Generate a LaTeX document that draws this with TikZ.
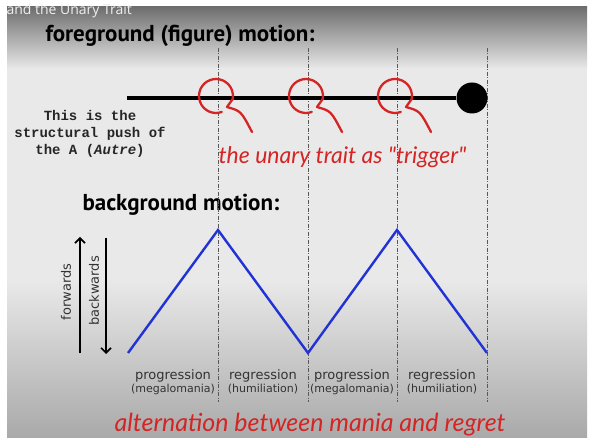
\documentclass[tikz,border=0pt]{standalone}
\usepackage{fontspec}
\setmainfont{DejaVu Sans}
\newfontfamily\headfont{PT Sans}
\newfontfamily\typefont{Liberation Mono}
\newfontfamily\handfont{Lato}
\newfontfamily\barfont{Open Sans}
\usepackage{xcolor}
\usetikzlibrary{arrows.meta}

\definecolor{bgtop}{HTML}{6E6E6E}
\definecolor{bgmid}{HTML}{E9E9E9}
\definecolor{bgbot}{HTML}{A9A9A9}
\definecolor{penred}{HTML}{D42424}
\definecolor{waveblue}{HTML}{2233D6}
\definecolor{labelgray}{HTML}{333333}

\begin{document}
\begin{tikzpicture}[x=1pt,y=-1pt,
  >={Straight Barb[length=5pt,width=10pt,line width=1.6pt]},
  divider/.style={draw=black!65,line width=0.8pt,dash pattern=on 4pt off 1.5pt on 1pt off 1.5pt},
  trigger/.style={draw=penred,line width=2.3pt,line cap=round,line join=round},
  wave/.style={draw=waveblue,line width=2.4pt,line join=miter},
  headline/.style={font=\headfont\bfseries\fontsize{23}{26}\selectfont,anchor=west},
  scribble/.style={text=penred,font=\handfont\itshape\fontsize{23}{26}\selectfont},
  phase/.style={text=labelgray,align=center,font=\fontsize{13}{14}\selectfont},
  direction/.style={rotate=90,text=labelgray,font=\fontsize{13}{15}\selectfont}]
  \useasboundingbox (0,0) rectangle (589,438);
  % screen background
  \fill[white] (0,0) rectangle (589,438);
  \shade[top color=bgtop,bottom color=bgmid] (7,7) rectangle (587,69);
  \fill[bgmid] (7,68) rectangle (587,281);
  \shade[top color=bgmid,bottom color=bgbot] (7,280) rectangle (587,438);
  \node[anchor=west,text=white!94!black,font=\barfont\fontsize{14}{16}\selectfont] (bar) at (3,11) {and the Unary Trait};

  \node[headline] (fgtitle) at (42,36) {foreground (figure) motion:};
  \node[headline] (bgtitle) at (79,205) {background motion:};

  % dashed dividers
  \foreach \x [count=\i] in {218,308,397,487} {
    \coordinate (top\i) at (\x,48);
    \coordinate (bot\i) at (\x,402);
    \draw[divider] (top\i) -- (bot\i);
  }

  % figure line
  \coordinate (push) at (127,98);
  \node[circle,fill=black,minimum size=31pt,inner sep=0pt] (endpt) at (472,98) {};
  \draw[line width=4pt] (push) -- (endpt);

  \node[align=center,text=black!85,font=\typefont\bfseries\fontsize{14}{17}\selectfont] (pushtext) at (90,134)
    {This is the\\structural push of\\the A (\textit{Autre})};

  % trigger loops
  \foreach \cx in {216,306,395} {
    \draw[trigger] (\cx,96) ++(70:17) arc[start angle=70,end angle=370,radius=17]
      -- ({\cx+11},107) .. controls ({\cx+25},111) .. ({\cx+36},132);
  }
  \node[scribble,anchor=west] (unary) at (215,157) {the unary trait as "trigger"};

  % background wave
  \coordinate (z0) at (128,353);
  \coordinate (z1) at (218,230);
  \coordinate (z2) at (308,353);
  \coordinate (z3) at (397,230);
  \coordinate (z4) at (487,353);
  \draw[wave] (z0) -- (z1) -- (z2) -- (z3) -- (z4);

  % forwards / backwards
  \coordinate (fwdlow) at (80,353);
  \coordinate (fwdhigh) at (80,237);
  \coordinate (bwdhigh) at (106,238);
  \coordinate (bwdlow) at (106,354);
  \draw[->,line width=2.2pt] (fwdlow) -- (fwdhigh);
  \draw[->,line width=2.2pt] (bwdhigh) -- (bwdlow);
  \node[direction] (fwdtext) at (66,292) {forwards};
  \node[direction] (bwdtext) at (94,291) {backwards};

  % phase labels
  \node[phase] (ph1) at (173,382) {progression\\[-1pt]{\fontsize{11}{12}\selectfont(megalomania)}};
  \node[phase] (ph2) at (263,382) {regression\\[-1pt]{\fontsize{11}{12}\selectfont(humiliation)}};
  \node[phase] (ph3) at (352,382) {progression\\[-1pt]{\fontsize{11}{12}\selectfont(megalomania)}};
  \node[phase] (ph4) at (442,382) {regression\\[-1pt]{\fontsize{11}{12}\selectfont(humiliation)}};

  \node[scribble,font=\handfont\itshape\fontsize{25}{28}\selectfont] (alternation) at (310,425) {alternation between mania and regret};
\end{tikzpicture}
\end{document}
